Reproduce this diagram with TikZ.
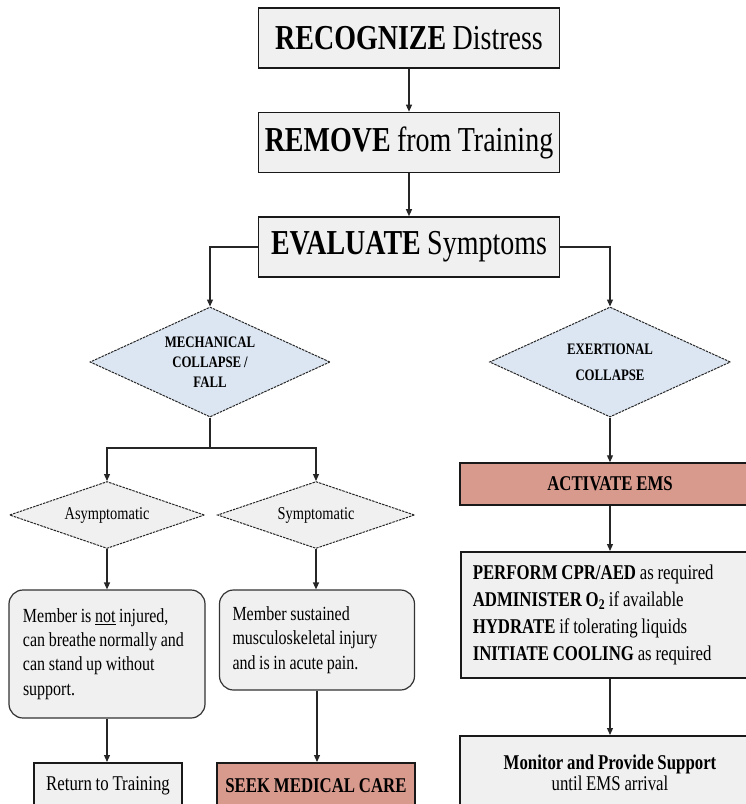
\documentclass[tikz,border=0pt]{standalone}
\usepackage{fontspec}
\setmainfont[FakeStretch=0.8,WordSpace=0.9]{Liberation Serif}
\usetikzlibrary{shapes.geometric,arrows.meta}
\definecolor{boxgray}{HTML}{F0F0F0}
\definecolor{salmon}{HTML}{D99A8E}
\definecolor{dblue}{HTML}{DCE6F2}
\begin{document}
\begin{tikzpicture}[x=1pt,y=-1pt,
  >={Triangle[width=6pt,length=7pt]},
  conn/.style={line width=1.2pt, draw=black!85},
  arr/.style={conn,->},
  bigbox/.style={draw=black!90, line width=1.6pt, fill=boxgray, minimum width=301pt,
    minimum height=60pt, inner sep=0pt, font=\fontsize{35}{40}\selectfont},
  dia/.style={diamond, draw=black!85, dash pattern=on 2.5pt off 1pt, line width=1pt,
    inner sep=0pt, align=center},
  diatext/.style={font=\bfseries\fontsize{16}{20}\selectfont},
  rbox/.style={draw=black!80, line width=1.2pt, rounded corners=14pt, fill=boxgray,
    align=flush left, font=\fontsize{20}{24.3}\selectfont, inner ysep=0pt},
  sbox/.style={draw=black!90, line width=1.5pt, inner sep=0pt,
    font=\fontsize{21}{21}\selectfont}
]
\useasboundingbox (0,0) rectangle (746,804);
\clip (0,0) rectangle (746,804);

% top chain
\node[bigbox] (rec) at (409,38) {\textbf{RECOGNIZE} Distress};
\node[bigbox] (rem) at (409,142.5) {\textbf{REMOVE} from Training};
\node[bigbox] (eva) at (409,247) {\textbf{EVALUATE} Symptoms};

% first-level diamonds
\node[dia, aspect=2.2, fill=dblue, minimum width=240pt, minimum height=110pt, diatext] (mech) at (210,362)
  {MECHANICAL\\COLLAPSE /\\FALL};
\node[dia, aspect=2.2, fill=dblue, minimum width=241pt, minimum height=110pt, diatext] (exe) at (610,362)
  {EXERTIONAL\\[6pt]COLLAPSE};

% second-level diamonds
\node[dia, aspect=2.9, fill=boxgray, minimum width=195pt, minimum height=67pt,
  font=\fontsize{18}{20}\selectfont] (asy) at (107,515) {Asymptomatic};
\node[dia, aspect=2.9, fill=boxgray, minimum width=197pt, minimum height=67pt,
  font=\fontsize{18}{20}\selectfont] (sym) at (316,515) {Symptomatic};

% rounded boxes
\node[rbox, text width=168pt, inner xsep=14pt, minimum height=128pt] (notinj) at (107,654)
  {Member is \underline{not} injured,\\can breathe normally and\\can stand up without\\support.};
\node[rbox, text width=169pt, inner xsep=13pt, minimum height=100pt] (sust) at (317,640)
  {Member sustained\\musculoskeletal injury\\and is in acute pain.};

% bottom-left boxes (cut by the page edge)
\node[sbox, fill=boxgray, anchor=north, minimum width=148pt, minimum height=46pt] (ret)
  at (108,762) {Return to Training};
\node[sbox, fill=salmon, anchor=north, minimum width=198pt, minimum height=46pt,
  font=\bfseries\fontsize{21}{21}\selectfont] (seek) at (316,762) {SEEK MEDICAL CARE};

% right column
\node[sbox, fill=salmon, minimum width=300pt, minimum height=42pt,
  font=\bfseries\fontsize{21}{21}\selectfont] (act) at (610,484) {ACTIVATE EMS};
\node[sbox, fill=boxgray, anchor=north west, minimum width=300pt, minimum height=126pt,
  text width=276pt, inner xsep=12pt, align=flush left,
  font=\fontsize{21}{27}\selectfont] (perf) at (460,551)
  {\textbf{PERFORM CPR/AED} as required\\
   \textbf{ADMINISTER O\textsubscript{2}} if available\\
   \textbf{HYDRATE} if tolerating liquids\\
   \textbf{INITIATE COOLING} as required};
\node[sbox, fill=boxgray, anchor=north, minimum width=300pt, minimum height=74pt,
  align=center, font=\fontsize{21}{21}\selectfont] (mon) at (610,735)
  {\textbf{Monitor and Provide Support}\\until EMS arrival};

% connectors
\draw[arr] (rec) -- (rem);
\draw[arr] (rem) -- (eva);
\draw[arr] (eva.west) -| (mech.north);
\draw[arr] (eva.east) -| (exe.north);
\coordinate (split) at (210,448);
\draw[conn] (mech.south) -- (split);
\draw[arr] (split) -| (asy.north);
\draw[arr] (split) -| (sym.north);
\draw[arr] (asy.south) -- (notinj.north);
\draw[arr] (sym.south) -- (sym.south |- sust.north);
\draw[arr] (notinj.south) -- (notinj.south |- ret.north);
\draw[arr] (sust.south) -- (sust.south |- seek.north);
\draw[arr] (exe.south) -- (exe.south |- act.north);
\draw[arr] (exe.south |- act.south) -- (exe.south |- perf.north);
\draw[arr] (exe.south |- perf.south) -- (exe.south |- mon.north);
\end{tikzpicture}
\end{document}
